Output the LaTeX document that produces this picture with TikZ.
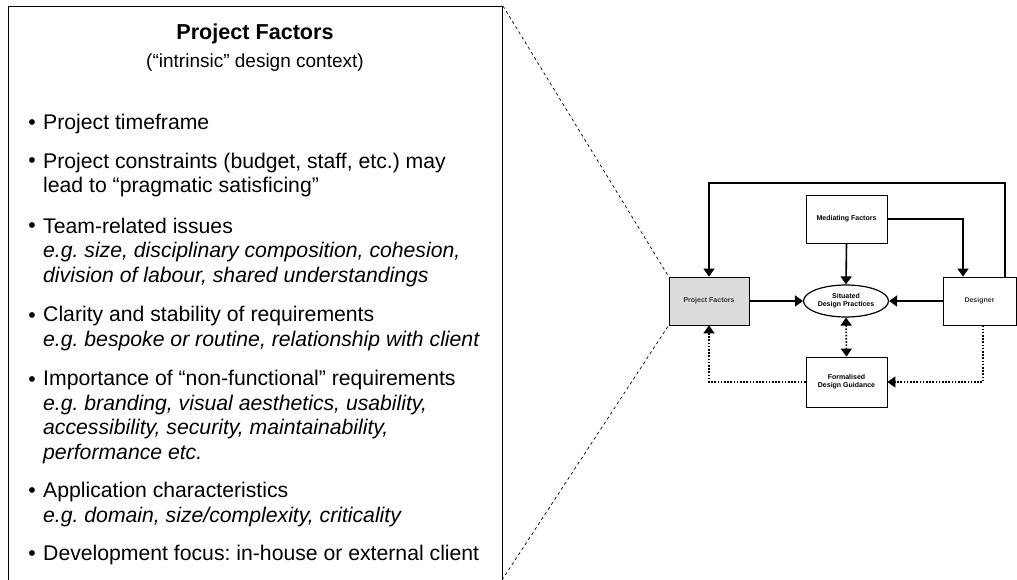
\documentclass[tikz,border=0pt]{standalone}
\usepackage{fontspec}
\setmainfont{Liberation Sans}
\usetikzlibrary{positioning,arrows.meta,shapes.geometric}
\frenchspacing

\tikzset{
  flow/.style={line width=1.6pt,-{Triangle[length=8pt,width=11pt]}},
  guide/.style={line width=1.6pt,dash pattern=on 1.6pt off 1.6pt,-{Triangle[length=8pt,width=11pt]}},
  linkline/.style={line width=0.7pt,dash pattern=on 3pt off 3pt},
  smallbox/.style={draw=black,line width=0.8pt,align=center,
    font=\fontsize{7}{8.2}\selectfont\bfseries},
  itemtext/.style={anchor=base west,align=left,inner sep=0pt,
    font=\fontsize{21.2}{24.4}\selectfont},
  dot/.style={anchor=base,inner sep=0pt,font=\fontsize{21.2}{24.4}\selectfont},
}

\begin{document}
\begin{tikzpicture}[x=1pt,y=-1pt]
  \useasboundingbox (0,0) rectangle (1017,580);

  % context box
  \node[draw=black,line width=1pt,minimum width=494pt,minimum height=600pt,
        anchor=north west,inner sep=0pt] (ctx) at (8,6) {};
  \node[anchor=base,font=\bfseries\fontsize{21.6}{24}\selectfont] (title) at (255,40) {Project Factors};
  \node[anchor=base,font=\fontsize{19}{22}\selectfont] (sub) at (255,68) {(“intrinsic” design context)};

  % items (node base = last line)
  \node[dot] (b1) at (32,130) {•};
  \node[itemtext] (i1) at (43,130) {Project timeframe};
  \node[dot] (b2) at (32,168) {•};
  \node[itemtext] (i2) at (43,193) {Project constraints (budget, staff, etc.) may\\lead to “pragmatic satisficing”};
  \node[dot] (b3) at (32,233) {•};
  \node[itemtext] (i3) at (43,282) {Team-related issues\\\textit{e.g. size, disciplinary composition, cohesion,}\\\textit{division of labour, shared understandings}};
  \node[dot] (b4) at (32,322) {•};
  \node[itemtext] (i4) at (43,346) {Clarity and stability of requirements\\\textit{e.g. bespoke or routine, relationship with client}};
  \node[dot] (b5) at (32,386) {•};
  \node[itemtext] (i5) at (43,459) {Importance of “non-functional” requirements\\\textit{e.g. branding, visual aesthetics, usability,}\\\textit{accessibility, security, maintainability,}\\\textit{performance etc.}};
  \node[dot] (b6) at (32,497) {•};
  \node[itemtext] (i6) at (43,522) {Application characteristics\\\textit{e.g. domain, size/complexity, criticality}};
  \node[dot] (b7) at (32,560) {•};
  \node[itemtext] (i7) at (43,560) {Development focus: in-house or external client};

  % model
  \node[smallbox,fill=black!14,text=black!80,minimum width=80pt,minimum height=48pt] (pf) at (709,301) {Project Factors};
  \node[smallbox,minimum width=81pt,minimum height=48pt] (med) at (846.5,219) {Mediating Factors};
  \node[smallbox,ellipse,line width=1.2pt,minimum width=85pt,minimum height=32pt,inner sep=0pt] (sdp) at (846,301) {Situated\\Design Practices};
  \node[smallbox,text=black!80,minimum width=73pt,minimum height=48pt] (des) at (979.5,301) {Designer};
  \node[smallbox,minimum width=81pt,minimum height=50pt] (fdg) at (846.5,382) {Formalised\\Design Guidance};

  \coordinate (loopR) at (1005,183);
  \coordinate (loopL) at (709,183);
  \coordinate (dknee) at (963,0);
  \coordinate (dout) at (983,0);
  \coordinate (cb) at (502,580);

  \draw[flow] (des.north -| loopR) -- (loopR) -- (loopL) -- (pf.north);
  \draw[flow] (med.east) -| (dknee |- des.north);
  \draw[flow] (med.south) -- (sdp.north);
  \draw[flow] (pf.east) -- (sdp.west);
  \draw[flow] (des.west) -- (sdp.east);
  \draw[guide,{Triangle[length=8pt,width=11pt]}-{Triangle[length=8pt,width=11pt]}] (sdp.south) -- (fdg.north);
  \draw[guide] (fdg.west) -| (pf.south);
  \draw[guide] (dout |- des.south) |- (fdg.east);

  \draw[linkline] (ctx.north east) -- (pf.north west);
  \draw[linkline] (cb) -- (pf.south west);
\end{tikzpicture}
\end{document}
